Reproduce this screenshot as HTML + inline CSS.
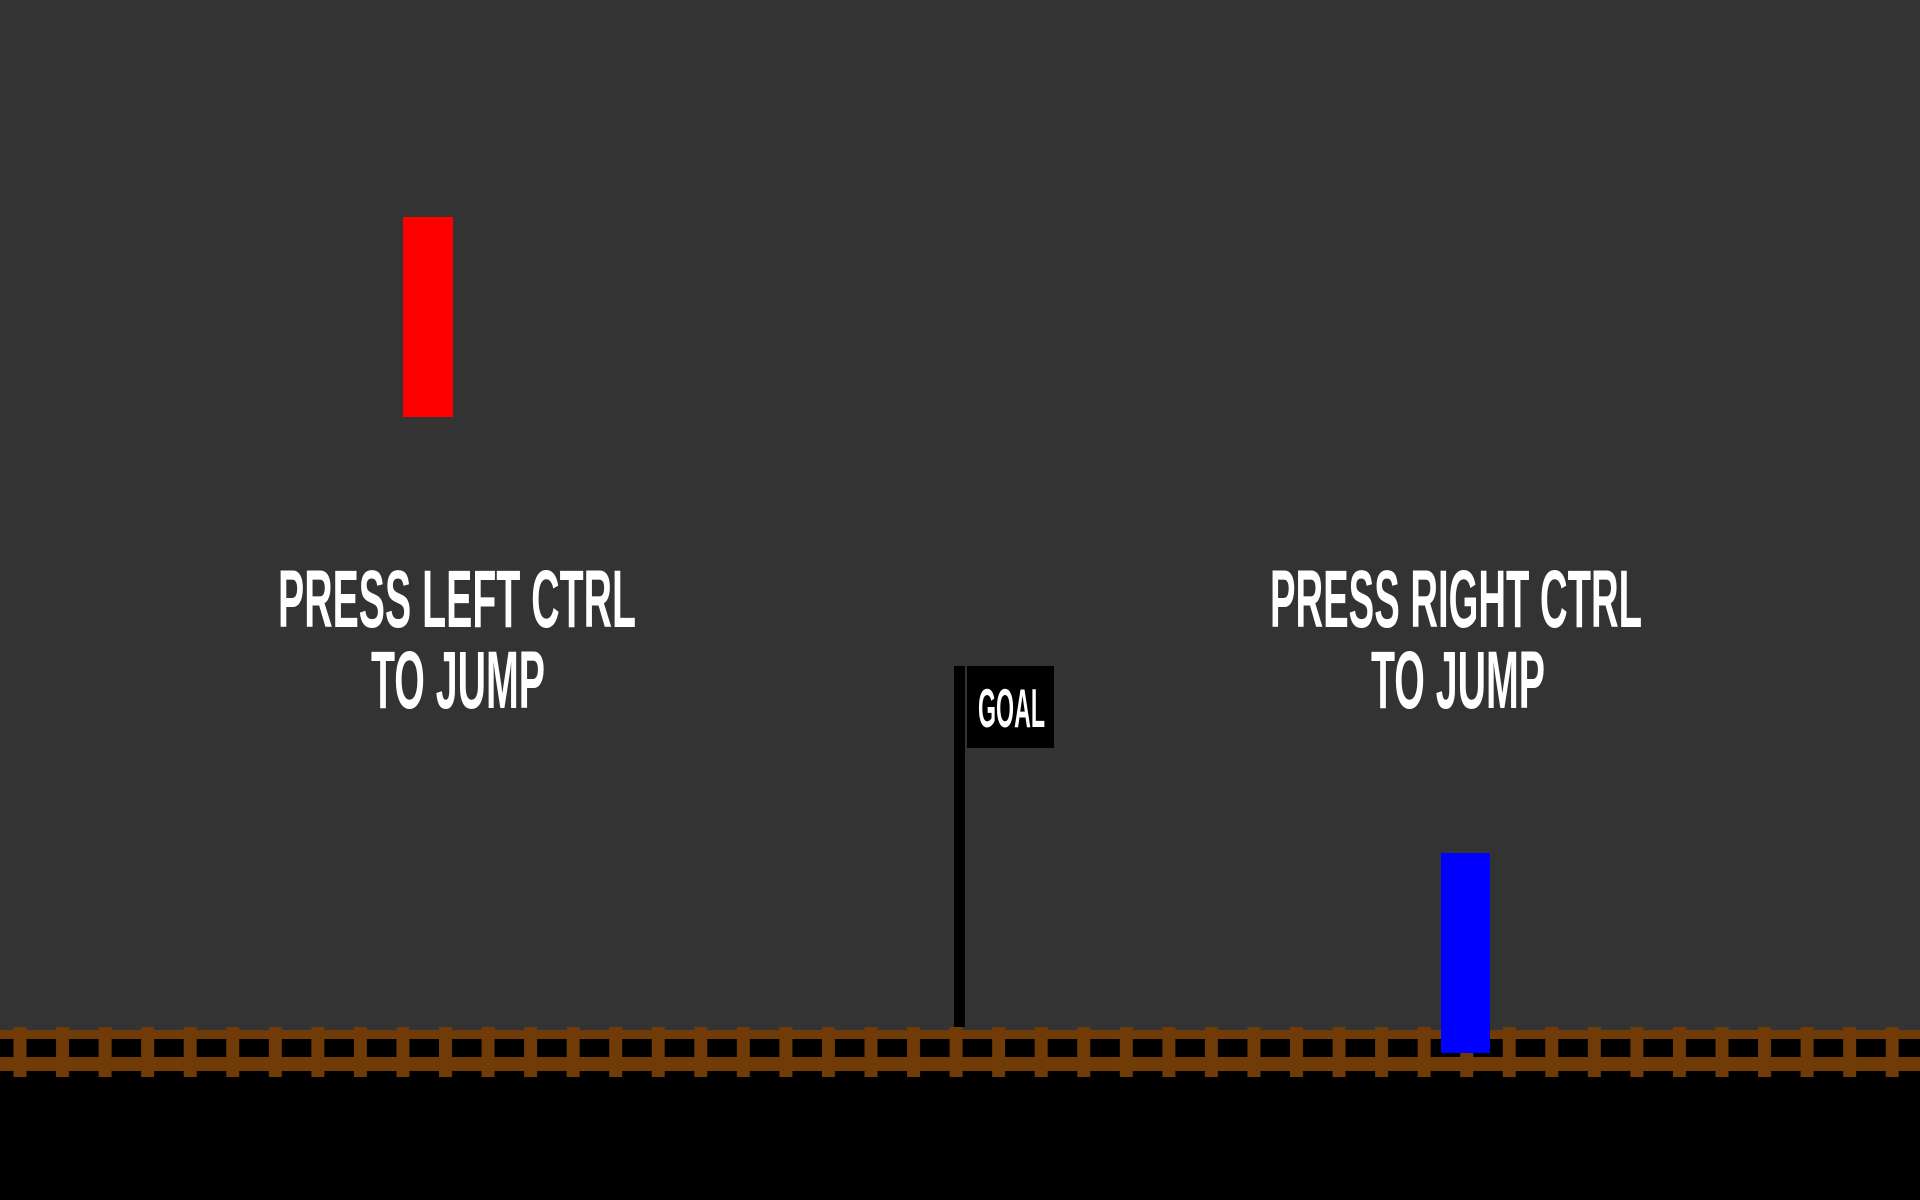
<!DOCTYPE html>
<html><head><meta charset="utf-8"><style>
html,body{margin:0;padding:0;background:#333;width:1920px;height:1200px;overflow:hidden}
</style></head><body>
<svg width="1920" height="1200" viewBox="0 0 1920 1200" xmlns="http://www.w3.org/2000/svg">
<defs>
<pattern id="ties" x="13.5" y="0" width="42.55" height="1200" patternUnits="userSpaceOnUse">
<rect x="0" y="1027" width="13" height="50" fill="#703b06"/>
</pattern>
</defs>
<rect width="1920" height="1200" fill="#333333"/>
<rect x="0" y="1033" width="1920" height="167" fill="#000"/>
<rect x="0" y="1030" width="1920" height="9" fill="#703b06"/>
<rect x="0" y="1057" width="1920" height="14" fill="#703b06"/>
<rect x="0" y="1020" width="1920" height="60" fill="url(#ties)"/>
<rect x="403" y="217" width="50" height="200" fill="#ff0000"/>
<rect x="1441" y="853" width="49" height="200" fill="#0000ff"/>
<rect x="954" y="666" width="11" height="361" fill="#000"/>
<rect x="967" y="666" width="87" height="82" fill="#000"/>
<g font-family="Liberation Sans, sans-serif" font-weight="bold" fill="#fff">
<text x="978" y="727" font-size="55" textLength="67" lengthAdjust="spacingAndGlyphs">GOAL</text>
<text x="278" y="627" font-size="82" textLength="358" lengthAdjust="spacingAndGlyphs">PRESS LEFT CTRL</text>
<text x="371" y="708" font-size="82" textLength="174" lengthAdjust="spacingAndGlyphs">TO JUMP</text>
<text x="1270" y="627" font-size="82" textLength="372" lengthAdjust="spacingAndGlyphs">PRESS RIGHT CTRL</text>
<text x="1371" y="708" font-size="82" textLength="174" lengthAdjust="spacingAndGlyphs">TO JUMP</text>
</g>
</svg>
</body></html>
